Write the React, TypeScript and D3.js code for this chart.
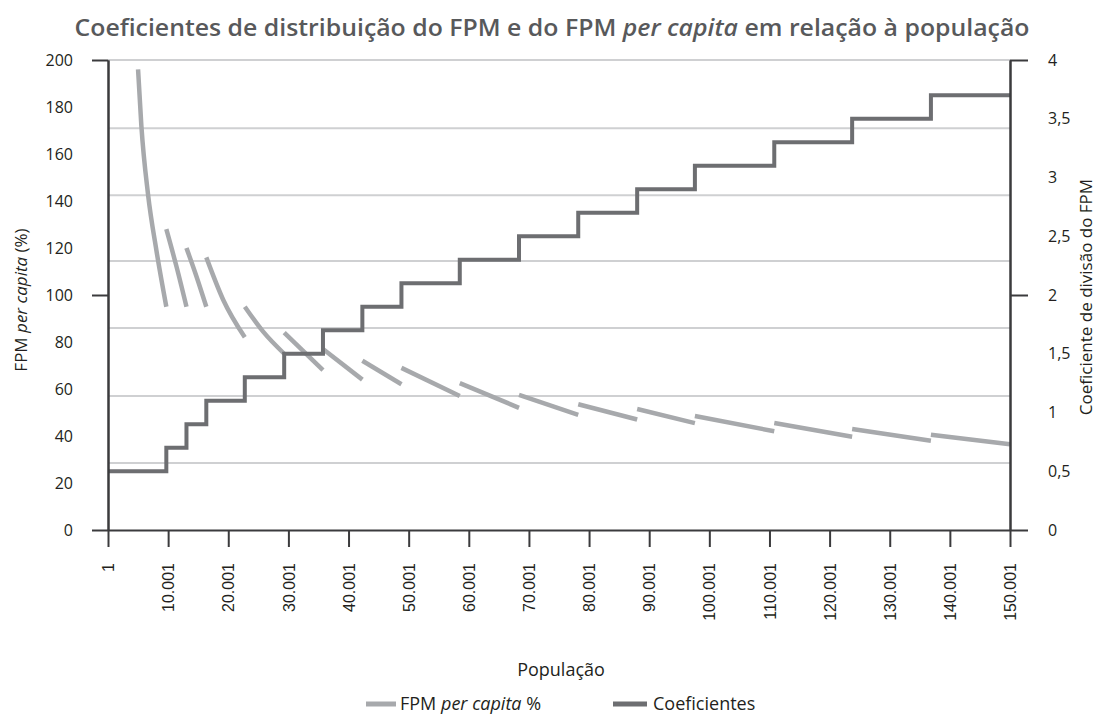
import { useEffect, useRef } from "react";
import * as d3 from "d3";

// population ticks on the x axis
const populationTicks = [1, 10001, 20001, 30001, 40001, 50001, 60001, 70001, 80001, 90001, 100001, 110001, 120001, 130001, 140001, 150001];
const fpmTicks = [0, 20, 40, 60, 80, 100, 120, 140, 160, 180, 200];
const fpmMajorTicks = [0, 100, 200];
const coefTicks = [0, 0.5, 1, 1.5, 2, 2.5, 3, 3.5, 4];
const coefMajorTicks = [0, 2, 4];
const gridValues = [28.5, 57, 86, 114.5, 142.5, 171, 200];

// Coeficientes (step line) - population where each level starts
const stepStarts = [1, 9700, 13050, 16350, 22750, 29300, 35750, 42300, 48800, 58500, 68350, 78200, 88000, 97600, 110800, 123750, 136850];
const stepLevels = [0.5, 0.7, 0.9, 1.1, 1.3, 1.5, 1.7, 1.9, 2.1, 2.3, 2.5, 2.7, 2.9, 3.1, 3.3, 3.5, 3.7];
const popEnd = 150001;

// FPM per capita % - one piece per bracket [population, %]
const perCapitaPieces: [number, number][][] = [
  [[5000, 196], [5550, 172], [6650, 143], [8050, 119], [9700, 95]],
  [[9700, 128], [11400, 112], [13050, 95]],
  [[13050, 120], [14700, 108], [16350, 95]],
  [[16350, 116], [19150, 98], [22750, 82]],
  [[22750, 95], [25800, 84.4], [29300, 75]],
  [[29300, 84], [35750, 68]],
  [[35750, 77], [42300, 64]],
  [[42300, 72], [48800, 62]],
  [[48800, 69], [58500, 57]],
  [[58500, 62.5], [68350, 52]],
  [[68350, 57.5], [78200, 49]],
  [[78200, 53.5], [88000, 47]],
  [[88000, 51.5], [97600, 45.5]],
  [[97600, 48.5], [110800, 42]],
  [[110800, 45.5], [123750, 39.7]],
  [[123750, 43], [136850, 38]],
  [[136850, 40.5], [150001, 36.5]],
];

const ptBR = d3.formatLocale({ decimal: ",", thousands: ".", grouping: [3], currency: ["R$", ""] });
const fmt = ptBR.format(",");

const W = 1104, H = 715;
const left = 108, right = 1010, top = 60, bottom = 530;
const textFont = "'Open Sans', sans-serif";
const ink = "#231f20";

export default function App() {
  const ref = useRef<SVGGElement>(null);

  useEffect(() => {
    const g = d3.select(ref.current);
    g.selectAll("*").remove();

    const x = d3.scaleLinear().domain([1, popEnd]).range([left, right]);
    const yL = d3.scaleLinear().domain([0, 200]).range([bottom, top]);
    const yR = d3.scaleLinear().domain([0, 4]).range([bottom, top]);

    // gridlines
    g.append("g").selectAll("line").data(gridValues).join("line")
      .attr("x1", left).attr("x2", right)
      .attr("y1", d => yL(d)).attr("y2", d => yL(d))
      .attr("stroke", "#cfd0d2").attr("stroke-width", 2);

    // per capita pieces
    const line = d3.line<[number, number]>()
      .x(d => x(d[0])).y(d => yL(d[1]))
      .curve(d3.curveMonotoneX);
    g.append("g").selectAll("path").data(perCapitaPieces).join("path")
      .attr("d", d => line(d))
      .attr("fill", "none").attr("stroke", "#a7a9ac").attr("stroke-width", 4.5);

    // step line
    const stepData: [number, number][] = stepStarts.map((p, i) => [p, stepLevels[i]]);
    stepData.push([popEnd, stepLevels[stepLevels.length - 1]]);
    const step = d3.line<[number, number]>()
      .x(d => x(d[0])).y(d => yR(d[1]))
      .curve(d3.curveStepAfter);
    g.append("path").attr("d", step(stepData))
      .attr("fill", "none").attr("stroke", "#6d6e71").attr("stroke-width", 4);

    // x axis
    const gx = g.append("g").attr("transform", `translate(0,${bottom})`)
      .call(d3.axisBottom(x).tickValues(populationTicks).tickSize(17).tickSizeOuter(0).tickFormat(d => fmt(d as number)));
    gx.selectAll("text")
      .attr("transform", "rotate(-90)")
      .attr("text-anchor", "end")
      .attr("x", -33).attr("y", 0).attr("dy", "0.35em")
      .attr("font-family", "'Liberation Sans', Arial, sans-serif")
      .attr("font-size", 16).attr("fill", ink);

    // left axis
    const gl = g.append("g").attr("transform", `translate(${left},0)`);
    gl.call(d3.axisLeft(yL).tickValues(fpmTicks).tickSize(0).tickPadding(35).tickFormat(d => fmt(d as number)));
    gl.append("g").call(d3.axisLeft(yL).tickValues(fpmMajorTicks).tickSize(16).tickSizeOuter(0).tickFormat(() => ""));
    gl.selectAll("text").attr("font-family", textFont).attr("font-size", 16).attr("fill", ink);

    // right axis
    const gr = g.append("g").attr("transform", `translate(${right},0)`);
    gr.call(d3.axisRight(yR).tickValues(coefTicks).tickSize(0).tickPadding(38).tickFormat(d => fmt(d as number)));
    gr.append("g").call(d3.axisRight(yR).tickValues(coefMajorTicks).tickSize(18).tickSizeOuter(0).tickFormat(() => ""));
    gr.selectAll("text").attr("font-family", textFont).attr("font-size", 16).attr("fill", ink);

    g.selectAll(".domain, .tick line").attr("stroke", "#3b3b3d").attr("stroke-width", 2);
  }, []);

  return (
    <svg width={W} height={H} style={{ position: "absolute", left: 0, top: 0, background: "#fff" }}>
      <text x={552} y={36} textAnchor="middle" fontFamily={textFont} fontWeight={600} fontSize={24} fill="#58595b"
        textLength={955} lengthAdjust="spacingAndGlyphs">
        Coeficientes de distribuição do FPM e do FPM <tspan fontStyle="italic">per capita</tspan> em relação à população
      </text>
      <g ref={ref} />
      <text transform="translate(27,300) rotate(-90)" textAnchor="middle" fontFamily={textFont} fontSize={17} fill={ink}>
        FPM <tspan fontStyle="italic">per capita</tspan> (%)
      </text>
      <text transform="translate(1092,297) rotate(-90)" textAnchor="middle" fontFamily={textFont} fontSize={17} fill={ink}>
        Coeficiente de divisão do FPM
      </text>
      <text x={561} y={676} textAnchor="middle" fontFamily={textFont} fontSize={18} fill={ink}>População</text>
      <line x1={366} x2={396} y1={704} y2={704} stroke="#a7a9ac" strokeWidth={5} />
      <text x={400} y={710} fontFamily={textFont} fontSize={18} fill={ink}>
        FPM <tspan fontStyle="italic">per capita</tspan> %
      </text>
      <line x1={613} x2={647} y1={704} y2={704} stroke="#6d6e71" strokeWidth={5} />
      <text x={653} y={710} fontFamily={textFont} fontSize={18} fill={ink}>Coeficientes</text>
    </svg>
  );
}
